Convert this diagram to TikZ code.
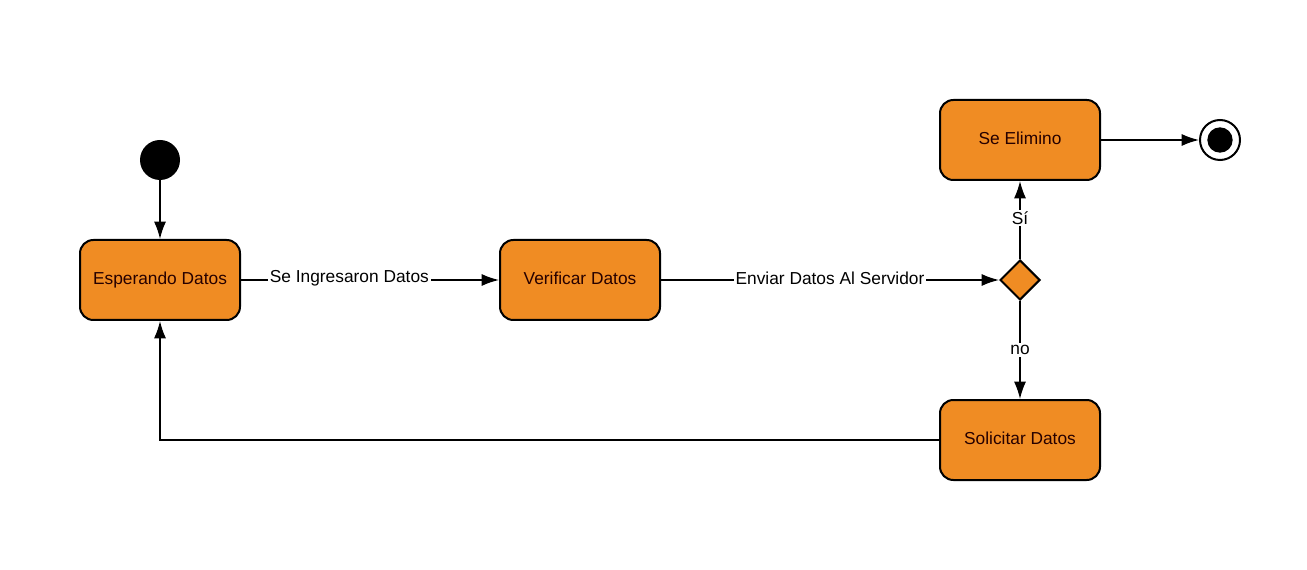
\documentclass[tikz,border=0pt]{standalone}
\usepackage{fontspec}
\setmainfont{Liberation Sans}
\usepackage{xcolor}
\usetikzlibrary{positioning}
\usetikzlibrary{arrows.meta}
\usetikzlibrary{shapes.geometric}
\definecolor{estadoNaranja}{RGB}{240,140,35}
\begin{document}
\begin{tikzpicture}[x=0.75pt,y=-0.75pt,
  estado/.style={draw=black, line width=1.5pt, fill=estadoNaranja, rounded corners=10pt,
    minimum width=120pt, minimum height=60pt, inner sep=0pt, text=black!85!red,
    font=\fontsize{13}{15}\selectfont},
  decision/.style={draw=black, line width=1.5pt, fill=estadoNaranja, diamond, aspect=1,
    minimum size=30pt, inner sep=0pt},
  flecha/.style={-{Latex[length=13pt,width=9pt]}, line width=1.1pt},
  etiqueta/.style={fill=white, inner sep=1.5pt, font=\fontsize{13}{15}\selectfont},
]
\useasboundingbox (0,0) rectangle (1307,570);

% estados
\fill [black] (160,160) circle (15pt);
\coordinate (inicio) at (160,180);
\node [estado] (esperando) at (160,280) {\raisebox{2pt}{Esperando Datos}};
\node [estado] (verificar) at (580,280) {\raisebox{2pt}{Verificar Datos}};
\node [decision] (decide) at (1020,280) {};
\node [estado] (elimino) at (1020,140) {\raisebox{2pt}{Se Elimino}};
\node [estado] (solicitar) at (1020,440) {\raisebox{2pt}{Solicitar Datos}};
\node [circle, draw=black, line width=1.5pt, minimum size=30pt, inner sep=0pt] (fin) at (1220,140) {};
\fill [black] (fin) circle (9.5pt);

% transiciones
\draw [flecha] (inicio) -- (esperando);
\draw [flecha] (esperando) -- node [etiqueta, pos=0.42, yshift=1.5pt] {Se Ingresaron Datos} (verificar);
\draw [flecha] (verificar) -- node [etiqueta, yshift=1.5pt] {Enviar Datos Al Servidor} (decide);
\draw [flecha] (decide) -- node [etiqueta, yshift=1.5pt] {Sí} (elimino);
\draw [flecha] (decide) -- node [etiqueta] {no} (solicitar);
\draw [flecha] (elimino) -- (fin);
\draw [flecha] (solicitar.west) -| (esperando.south);
\end{tikzpicture}
\end{document}
